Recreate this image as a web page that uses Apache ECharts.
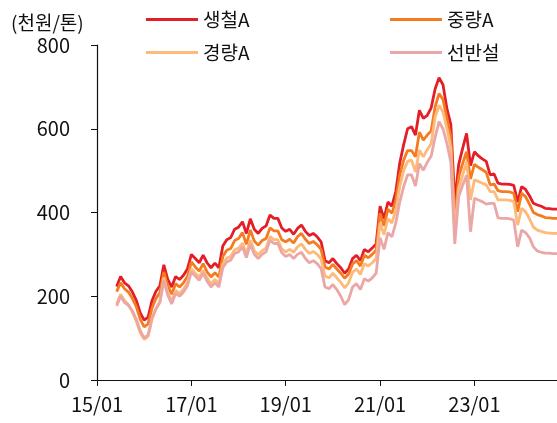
<!DOCTYPE html>
<html>
<head>
<meta charset="utf-8">
<script src="https://cdn.jsdelivr.net/npm/echarts@6/dist/echarts.min.js"></script>
<style>html,body{margin:0;padding:0;background:#fff;}#c{width:557px;height:423px;}</style>
</head>
<body>
<div id="c"></div>
<script>
// Monthly categories Jan 2015 .. Oct 2024 (YY/MM)
var startYear = 15, endYear = 24, endMonth = 10;
var categories = [];
for (var y = startYear; y <= endYear; y++) {
  for (var m = 1; m <= 12; m++) {
    if (y === endYear && m > endMonth) break;
    categories.push(y + '/' + (m < 10 ? '0' + m : m));
  }
}
var tickLabels = ['15/01', '17/01', '19/01', '21/01', '23/01'];
var leadNulls = [null, null, null, null, null]; // Jan-May 2015: no data

// 생철A (Jun 2015 .. Oct 2024)
var scrapA = [
  223, 247, 232, 225, 210, 190, 160,
  143, 150, 190, 212, 225, 275, 240, 222, 247, 240, 250, 265,
  300, 290, 280, 298, 280, 268, 279, 268, 320, 335, 340, 360,
  365, 378, 350, 385, 360, 350, 362, 368, 394, 386, 386, 363,
  355, 360, 348, 362, 370, 355, 345, 350, 342, 330, 285, 280,
  290, 278, 268, 255, 265, 290, 298, 285, 312, 306, 315, 325,
  415, 385, 425, 415, 450, 518, 562, 600, 605, 585, 644, 625,
  632, 650, 695, 722, 705, 648, 610, 425, 515, 553, 589, 512,
  545, 535, 528, 522, 490, 492, 470, 468, 468, 467, 465, 425,
  462, 455, 440, 422, 418, 415, 410, 409, 408, 408
];
// 중량A
var heavyA = [
  211, 232, 218, 210, 195, 175, 145,
  127, 134, 172, 195, 208, 258, 224, 205, 230, 222, 232, 247,
  282, 270, 260, 278, 258, 246, 256, 246, 295, 310, 314, 333,
  338, 352, 324, 358, 332, 322, 333, 338, 363, 356, 356, 335,
  330, 336, 327, 342, 350, 336, 326, 331, 323, 312, 270, 265,
  276, 265, 255, 243, 253, 277, 285, 272, 298, 292, 300, 310,
  398, 368, 408, 398, 428, 490, 525, 548, 548, 533, 592, 573,
  585, 595, 652, 684, 670, 625, 580, 380, 485, 517, 545, 480,
  515, 508, 502, 496, 466, 468, 452, 450, 450, 449, 446, 402,
  446, 438, 420, 400, 395, 392, 388, 387, 386, 386
];
// 경량A
var lightA = [
  182, 205, 190, 180, 163, 140, 112,
  97, 104, 145, 170, 188, 245, 208, 188, 214, 207, 217, 232,
  265, 255, 246, 262, 244, 230, 240, 230, 277, 291, 295, 311,
  315, 327, 301, 334, 309, 299, 309, 315, 343, 335, 335, 313,
  306, 312, 305, 318, 325, 312, 302, 307, 300, 289, 248, 244,
  255, 244, 233, 220, 232, 257, 265, 252, 278, 272, 280, 290,
  375, 347, 385, 375, 405, 462, 500, 522, 525, 497, 549, 533,
  550, 565, 628, 656, 640, 600, 555, 355, 458, 489, 521, 430,
  478, 474, 470, 466, 450, 450, 430, 430, 430, 429, 426, 370,
  410, 402, 385, 365, 358, 355, 352, 351, 350, 350
];
// 선반설
var turnings = [
  177, 200, 185, 178, 165, 145, 118,
  100, 108, 148, 170, 185, 238, 202, 182, 207, 200, 210, 225,
  258, 248, 238, 255, 236, 222, 232, 222, 268, 282, 286, 302,
  306, 318, 292, 325, 300, 290, 300, 306, 334, 326, 326, 304,
  295, 300, 290, 300, 305, 290, 280, 285, 278, 266, 222, 218,
  228, 216, 200, 180, 192, 222, 230, 216, 242, 236, 244, 255,
  340, 312, 352, 342, 375, 425, 462, 490, 490, 463, 517, 501,
  520, 535, 580, 617, 600, 565, 520, 325, 438, 465, 489, 354,
  434, 430, 426, 420, 422, 422, 387, 386, 386, 385, 382, 318,
  358, 352, 340, 318, 308, 305, 303, 303, 302, 302
];

var FONT = '"Noto Sans CJK KR", "Noto Sans", sans-serif';
function mk(name, data, color) {
  return {
    name: name, type: 'line', data: leadNulls.concat(data),
    symbol: 'none', smooth: false,
    lineStyle: { width: 2.8, color: color }, itemStyle: { color: color }
  };
}
var legendCommon = {
  orient: 'vertical', top: 5, itemGap: 14, itemWidth: 52, itemHeight: 3,
  icon: 'rect', textStyle: { fontFamily: FONT, fontSize: 19, color: '#111' }
};
var chart = echarts.init(document.getElementById('c'), null, { renderer: 'canvas' });
chart.setOption({
  animation: false,
  backgroundColor: '#fff',
  title: { text: '(천원/톤)', left: 6, top: 8,
    textStyle: { fontFamily: FONT, fontSize: 19, fontWeight: 'normal', color: '#111' } },
  legend: [
    Object.assign({ left: 141, data: ['생철A', '경량A'] }, legendCommon),
    Object.assign({ left: 385, data: ['중량A', '선반설'] }, legendCommon)
  ],
  grid: { left: 97, right: 0, top: 45, bottom: 43, containLabel: false },
  xAxis: {
    type: 'category', data: categories, boundaryGap: false,
    axisLine: { lineStyle: { color: '#111', width: 1.2 } },
    axisTick: { interval: function (i, v) { return tickLabels.indexOf(v) >= 0; }, length: 6, lineStyle: { color: '#111' } },
    axisLabel: { interval: function (i, v) { return tickLabels.indexOf(v) >= 0; },
      fontFamily: FONT, fontSize: 20, color: '#111', margin: 14 },
    splitLine: { show: false }
  },
  yAxis: {
    type: 'value', min: 0, max: 800, interval: 200,
    axisLine: { show: true, lineStyle: { color: '#111', width: 1.2 } },
    axisTick: { show: true, length: 6, lineStyle: { color: '#111' } },
    axisLabel: { fontFamily: FONT, fontSize: 20, color: '#111', margin: 27 },
    splitLine: { show: false }
  },
  series: [
    mk('생철A', scrapA, '#E41E26'),
    mk('중량A', heavyA, '#F47B20'),
    mk('경량A', lightA, '#FDBA7A'),
    mk('선반설', turnings, '#EBA6A6')
  ]
});
</script>
</body>
</html>
